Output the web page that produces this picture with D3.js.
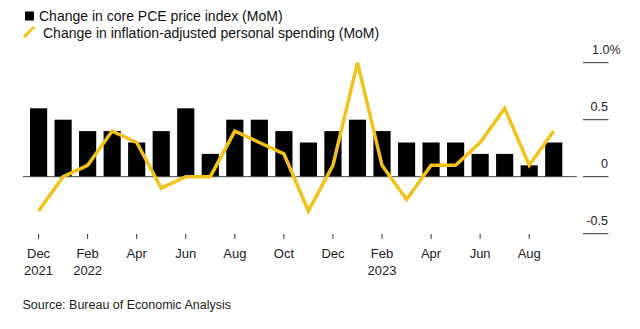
<!DOCTYPE html>
<html>
<head>
<meta charset="utf-8">
<script src="https://cdn.jsdelivr.net/npm/d3@7"></script>
<style>
  body { margin: 0; background: #fff; }
  svg { display: block; font-family: "Liberation Sans", Arial, sans-serif; }
</style>
</head>
<body>
<div id="chart"></div>
<script>
const width = 640;
const height = 329;

// months from Dec 2021 to Sep 2023
const months = ["2021-12", "2022-01", "2022-02", "2022-03", "2022-04", "2022-05", "2022-06",
  "2022-07", "2022-08", "2022-09", "2022-10", "2022-11", "2022-12", "2023-01", "2023-02",
  "2023-03", "2023-04", "2023-05", "2023-06", "2023-07", "2023-08", "2023-09"];
const corePce = [0.6, 0.5, 0.4, 0.4, 0.3, 0.4, 0.6, 0.2, 0.5, 0.5, 0.4, 0.3, 0.4, 0.5, 0.4,
  0.3, 0.3, 0.3, 0.2, 0.2, 0.1, 0.3];
const spending = [-0.3, 0.0, 0.1, 0.4, 0.3, -0.1, 0.0, 0.0, 0.4, 0.3, 0.2, -0.3, 0.1, 1.0, 0.1,
  -0.2, 0.1, 0.1, 0.3, 0.6, 0.1, 0.4];
const yTicks = [-0.5, 0, 0.5, 1.0];
const xTickMonths = ["2021-12", "2022-02", "2022-04", "2022-06", "2022-08", "2022-10", "2022-12",
  "2023-02", "2023-04", "2023-06", "2023-08"];
const xTickLabels = [["Dec", "2021"], ["Feb", "2022"], ["Apr"], ["Jun"], ["Aug"], ["Oct"], ["Dec"],
  ["Feb", "2023"], ["Apr"], ["Jun"], ["Aug"]];
const legendLabels = ["Change in core PCE price index (MoM)",
  "Change in inflation-adjusted personal spending (MoM)"];

const gold = "#f1c21b";

const svg = d3.select("#chart")
  .append("svg")
    .attr("width", width)
    .attr("height", height);

const x = d3.scaleBand(months, [26.3, 566])
  .paddingInner(0.3)
  .paddingOuter(0.15);

const y = d3.scaleLinear([0, 0.5], [176.7, 119.7]);

// legend
const legend = svg.append("g").attr("class", "legend");
legend.append("rect")
  .attr("x", 25).attr("y", 11.5)
  .attr("width", 9).attr("height", 9)
  .attr("fill", "#000");
legend.append("text")
  .attr("x", 39).attr("y", 20.5)
  .attr("font-size", 14)
  .attr("fill", "#111")
  .text(legendLabels[0]);
legend.append("line")
  .attr("x1", 24).attr("y1", 37)
  .attr("x2", 34).attr("y2", 27)
  .attr("stroke", gold)
  .attr("stroke-width", 3);
legend.append("text")
  .attr("x", 43).attr("y", 38)
  .attr("font-size", 14)
  .attr("fill", "#111")
  .text(legendLabels[1]);

// right axis: short gridlines with labels above
const yAxis = svg.append("g").attr("class", "yAxis");
yAxis.selectAll("line")
  .data(yTicks)
  .join("line")
    .attr("x1", 583)
    .attr("x2", 608.5)
    .attr("y1", d => y(d))
    .attr("y2", d => y(d))
    .attr("stroke", "#333")
    .attr("stroke-width", 1);
yAxis.selectAll("text")
  .data(yTicks)
  .join("text")
    .attr("x", 608)
    .attr("y", d => y(d) - 8.5)
    .attr("font-size", 12.5)
    .attr("fill", "#222")
    .attr("text-anchor", "end")
    .text(d => d === 0 ? "0" : d3.format(".1f")(d).replace("−", "-"))
  .filter(d => d === 1.0)
    .append("tspan")
    .text("%");
// keep "1.0" right edge aligned, let "%" hang
yAxis.selectAll("text").filter(d => d === 1.0)
  .attr("text-anchor", "start")
  .attr("x", 592);

// bars
svg.append("g")
    .attr("class", "bars")
  .selectAll("rect")
  .data(months.map((m, i) => [m, corePce[i]]))
  .join("rect")
    .attr("x", d => x(d[0]))
    .attr("y", d => y(Math.max(0, d[1])))
    .attr("width", x.bandwidth())
    .attr("height", d => Math.abs(y(d[1]) - y(0)))
    .attr("fill", "#000");

// zero line
svg.append("line")
  .attr("x1", 22.7)
  .attr("x2", 576.7)
  .attr("y1", y(0))
  .attr("y2", y(0))
  .attr("stroke", "#444")
  .attr("stroke-width", 1);

// spending line
const line = d3.line()
  .x((d, i) => x(months[i]) + x.bandwidth() / 2)
  .y(d => y(d));

svg.append("path")
  .datum(spending)
  .attr("fill", "none")
  .attr("stroke", gold)
  .attr("stroke-width", 3.5)
  .attr("stroke-linejoin", "miter")
  .attr("d", line);

// x axis
const xAxis = svg.append("g").attr("class", "xAxis");
xAxis.selectAll("line")
  .data(xTickMonths)
  .join("line")
    .attr("x1", d => x(d) + x.bandwidth() / 2)
    .attr("x2", d => x(d) + x.bandwidth() / 2)
    .attr("y1", 234)
    .attr("y2", 239)
    .attr("stroke", "#333");
xAxis.selectAll("text")
  .data(xTickMonths)
  .join("text")
    .attr("x", d => x(d) + x.bandwidth() / 2)
    .attr("y", 257.5)
    .attr("font-size", 13)
    .attr("fill", "#222")
    .attr("text-anchor", "middle")
    .each(function (d, i) {
      const t = d3.select(this);
      xTickLabels[i].forEach((s, k) => {
        t.append("tspan")
          .attr("x", x(d) + x.bandwidth() / 2)
          .attr("dy", k === 0 ? 0 : 17.5)
          .text(s);
      });
    });

// source
svg.append("text")
  .attr("x", 22.5)
  .attr("y", 308.5)
  .attr("font-size", 12.5)
  .attr("fill", "#222")
  .text("Source: Bureau of Economic Analysis");
</script>
</body>
</html>
